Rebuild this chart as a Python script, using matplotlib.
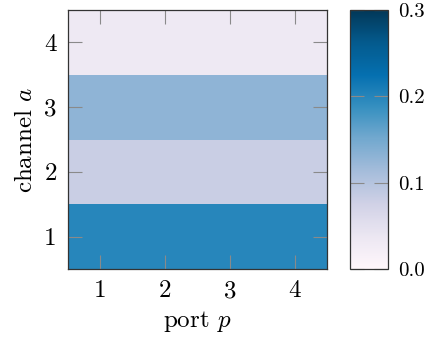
import numpy as np
import matplotlib
matplotlib.use("Agg")
import matplotlib.pyplot as plt

plt.rcParams['font.family'] = 'serif'
plt.rcParams['font.serif'] = ['cmr10']
plt.rcParams['mathtext.fontset'] = 'cm'
plt.rcParams['axes.formatter.use_mathtext'] = True

# data: value per channel (rows), equal over all ports
ports = [1, 2, 3, 4]
channels = [1, 2, 3, 4]
channel_vals = [0.199, 0.082, 0.130, 0.033]
cbar_ticks = [0.0, 0.1, 0.2, 0.3]
cbar_labels = ['0.0', '0.1', '0.2', '0.3']

Z = np.array([[v] * len(ports) for v in channel_vals])

fig = plt.figure(figsize=(4.26, 3.37), dpi=100)
ax = fig.add_axes([68 / 426, 1 - 269 / 337, 259 / 426, 259 / 337])
cax = fig.add_axes([350 / 426, 1 - 269 / 337, 38 / 426, 259 / 337])

pc = ax.pcolormesh(np.arange(0.5, 5, 1), np.arange(0.5, 5, 1), Z,
                   cmap='PuBu', vmin=0, vmax=0.3, shading='flat')
ax.set_xlim(0.5, 4.5)
ax.set_ylim(0.5, 4.5)
ax.set_xticks(ports)
ax.set_yticks(channels)
ax.set_xticklabels([str(p) for p in ports])
ax.set_yticklabels([str(c) for c in channels])
ax.tick_params(direction='in', top=True, right=True, length=10, width=0.8,
               color='#8a8a8a', labelsize=18, pad=8)
ax.set_xlabel('port $p$', fontsize=18, labelpad=5)
ax.set_ylabel('channel $a$', fontsize=18, labelpad=5)
for s in ax.spines.values():
    s.set_linewidth(0.9)
    s.set_color('#333333')

cb = fig.colorbar(pc, cax=cax)
cb.set_ticks(cbar_ticks)
cb.set_ticklabels(cbar_labels)
cax.tick_params(direction='in', left=True, right=True, length=10, width=0.8,
                color='#8a8a8a', labelsize=15, pad=7)
cb.outline.set_linewidth(0.9)
cb.outline.set_edgecolor('#333333')

fig.savefig('out.png', dpi=100)
